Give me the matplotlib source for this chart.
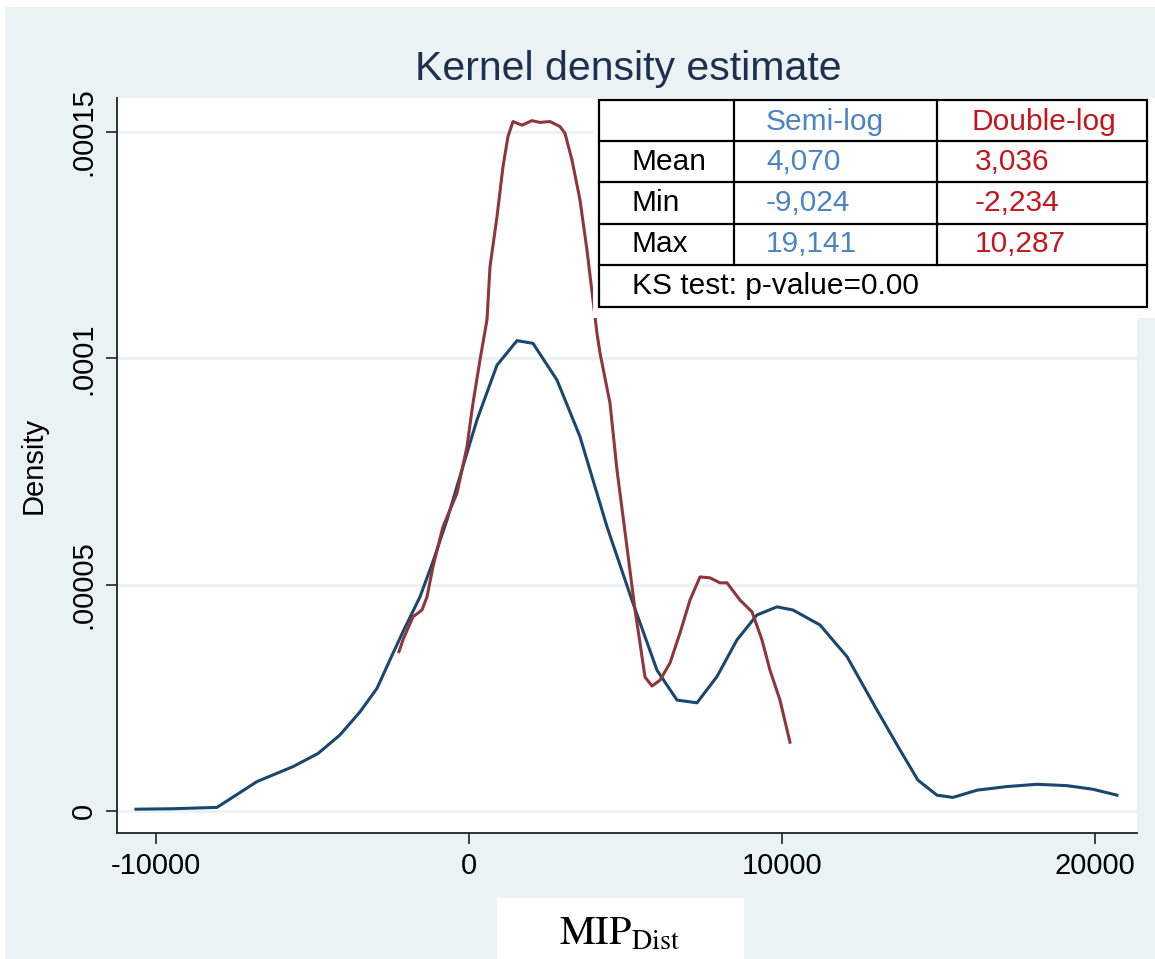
import numpy as np
import matplotlib
matplotlib.use('Agg')
import matplotlib.pyplot as plt
from matplotlib.patches import Rectangle

plt.rcParams['font.family'] = ['Liberation Sans', 'DejaVu Sans']
plt.rcParams['mathtext.fontset'] = 'stix'
plt.rcParams['axes.unicode_minus'] = False

# semi-log kernel density
semi_x = [-10639, -9457, -8051, -6773, -5623, -4824, -4122, -3482, -2939, -2524,
          -2109, -1566, -1150, -703, -64, 256, 895, 1534, 2045, 2812, 3546, 4409,
          5240, 6007, 6646, 7285, 7923, 8562, 9201, 9840, 10351, 11214, 12077,
          13035, 13770, 14345, 14952, 15464, 16230, 17189, 18147, 19106, 19936, 20703]
semi_y = [0.04, 0.05, 0.08, 0.65, 0.98, 1.27, 1.68, 2.19, 2.71, 3.34,
          3.96, 4.73, 5.51, 6.43, 7.91, 8.64, 9.85, 10.39, 10.33, 9.52, 8.27, 6.28,
          4.59, 3.11, 2.45, 2.39, 2.97, 3.78, 4.33, 4.51, 4.44, 4.11, 3.41,
          2.23, 1.35, 0.68, 0.35, 0.30, 0.46, 0.54, 0.59, 0.56, 0.48, 0.35]

# double-log kernel density
dbl_x = [-2237, -2109, -1789, -1502, -1342, -1150, -831, -383, -64, 128, 351, 575,
         671, 895, 1086, 1246, 1406, 1693, 2013, 2268, 2588, 2907, 3067, 3291,
         3546, 3770, 4090, 4185, 4505, 4729, 5048, 5304, 5464, 5623, 5847, 6102,
         6422, 6741, 7061, 7380, 7700, 8019, 8243, 8658, 9042, 9361, 9617, 9936, 10255]
dbl_y = [3.52, 3.78, 4.29, 4.44, 4.73, 5.40, 6.28, 7.02, 8.05, 9.01, 9.96, 10.85,
         12.02, 13.13, 14.23, 14.90, 15.23, 15.15, 15.25, 15.21, 15.23, 15.12, 14.97, 14.38,
         13.50, 12.39, 10.55, 10.12, 9.01, 7.53, 5.83, 4.44, 3.71, 2.96, 2.76, 2.89,
         3.27, 3.93, 4.66, 5.17, 5.15, 5.04, 5.04, 4.66, 4.40, 3.78, 3.11, 2.45, 1.52]

xticks = [-10000, 0, 10000, 20000]
yticks = [0, 0.00005, 0.0001, 0.00015]
ytick_labels = ['0', '.00005', '.0001', '.00015']

row_names = ['Mean', 'Min', 'Max']
semi_stats = ['4,070', '-9,024', '19,141']
dbl_stats = ['3,036', '-2,234', '10,287']
ks_text = 'KS test: p-value=0.00'

W, H = 1155, 959
bg = '#eaf2f3'
navy = '#1a476f'
maroon = '#90353b'

fig = plt.figure(figsize=(W / 100, H / 100), dpi=100, facecolor='white')
fig.add_artist(Rectangle((5 / W, 0), 1, 1 - 7 / H, transform=fig.transFigure,
                         facecolor=bg, edgecolor='none', zorder=-2))

ax = fig.add_axes([117 / W, 1 - 833 / H, (1137 - 117) / W, (833 - 98) / H])
ax.set_facecolor('white')
ax.plot(semi_x, np.array(semi_y) * 1e-5, color=navy, lw=2.2, zorder=3)
ax.plot(dbl_x, np.array(dbl_y) * 1e-5, color=maroon, lw=2.2, zorder=3)
ax.set_xlim(-11246, 21343)
ax.set_ylim(-4.86e-6, 1.575e-4)
ax.set_xticks(xticks)
ax.set_yticks(yticks)
ax.set_yticklabels(ytick_labels, rotation=90, va='center')
ax.tick_params(axis='both', direction='out', length=8, width=1.2, colors='#222222',
               labelsize=21, labelcolor='black', pad=6)
ax.grid(axis='y', color=bg, lw=2.2)
ax.set_axisbelow(True)
for s in ['top', 'right']:
    ax.spines[s].set_visible(False)
for s in ['left', 'bottom']:
    ax.spines[s].set_linewidth(1.3)
    ax.spines[s].set_color('#222222')
ax.set_ylabel('Density', fontsize=21, labelpad=16)

fig.text(628 / W, 1 - 80 / H, 'Kernel density estimate', ha='center', va='baseline',
         fontsize=29.5, color='#1e3050')

# overlay in pixel coordinates for the pasted table and label box
ov = fig.add_axes([0, 0, 1, 1], zorder=5)
ov.set_xlim(0, W)
ov.set_ylim(H, 0)
ov.axis('off')
ov.patch.set_alpha(0)

ov.add_patch(Rectangle((593, 98), W - 593, 318 - 98, facecolor='white', edgecolor='none'))
cols = [599, 734, 937, 1147]
rows = [100, 141, 182, 224, 265, 307]
ov.add_patch(Rectangle((cols[0], rows[0]), cols[-1] - cols[0], rows[-1] - rows[0],
                       facecolor='white', edgecolor='black', lw=1.6))
for y in rows[1:-1]:
    ov.plot([cols[0], cols[-1]], [y, y], color='black', lw=1.6)
for x in cols[1:-1]:
    ov.plot([x, x], [rows[0], rows[-2]], color='black', lw=1.6)

blue_txt = '#4a84c4'
red_txt = '#c3161d'
tfs = 21.5
ov.text(766, 122, 'Semi-log', color=blue_txt, fontsize=tfs, va='center')
ov.text(972, 122, 'Double-log', color=red_txt, fontsize=tfs, va='center')
for i, name in enumerate(row_names):
    yc = (rows[i + 1] + rows[i + 2]) / 2
    ov.text(632, yc, name, color='black', fontsize=tfs, va='center')
    ov.text(766, yc, semi_stats[i], color=blue_txt, fontsize=tfs, va='center')
    ov.text(975, yc, dbl_stats[i], color=red_txt, fontsize=tfs, va='center')
ov.text(632, (rows[4] + rows[5]) / 2, ks_text, color='black', fontsize=tfs, va='center')

ov.add_patch(Rectangle((497, 898), 744 - 497, H - 898, facecolor='white', edgecolor='none'))
ov.text(620, 934, r'$\mathrm{MIP}_{\mathrm{Dist}}$', ha='center', va='center', fontsize=29)

fig.savefig('out.png', dpi=100, facecolor=fig.get_facecolor())
